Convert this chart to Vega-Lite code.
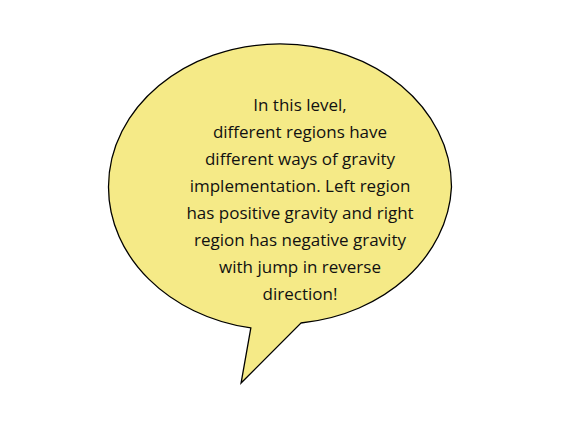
{
  "$schema": "https://vega.github.io/schema/vega-lite/v6.json",
  "width": 580,
  "height": 430,
  "padding": 0,
  "autosize": {"type": "none"},
  "background": "white",
  "config": {"view": {"stroke": null}},
  "datasets": {
    "bubble": [{"x": 280, "y": 187}],
    "words": [{"x": 300, "y": 98, "label": "In this level,\ndifferent regions have\ndifferent ways of gravity\nimplementation. Left region\nhas positive gravity and right\nregion has negative gravity\nwith jump in reverse\ndirection!"}]
  },
  "layer": [
    {
      "data": {"name": "bubble"},
      "mark": {"type": "point", "filled": true, "fill": "#f5ea87", "stroke": "#000000", "strokeWidth": 1.3, "opacity": 1, "size": 117649,
        "shape": "M -0.17 0.822 L -0.227 1.143 L 0.122 0.793 A 1 0.834 0 0 0 1 0 A 1 0.834 0 0 0 0 -0.834 A 1 0.834 0 0 0 -1 0 A 1 0.834 0 0 0 -0.17 0.822 Z"},
      "encoding": {
        "x": {"field": "x", "type": "quantitative", "scale": {"domain": [0, 580]}, "axis": null},
        "y": {"field": "y", "type": "quantitative", "scale": {"domain": [430, 0]}, "axis": null}
      }
    },
    {
      "data": {"name": "words"},
      "mark": {"type": "text", "align": "center", "baseline": "top", "font": "Open Sans", "fontSize": 17, "lineHeight": 27, "lineBreak": "\n", "color": "#111111"},
      "encoding": {
        "x": {"field": "x", "type": "quantitative", "scale": {"domain": [0, 580]}, "axis": null},
        "y": {"field": "y", "type": "quantitative", "scale": {"domain": [430, 0]}, "axis": null},
        "text": {"field": "label"}
      }
    }
  ]
}
